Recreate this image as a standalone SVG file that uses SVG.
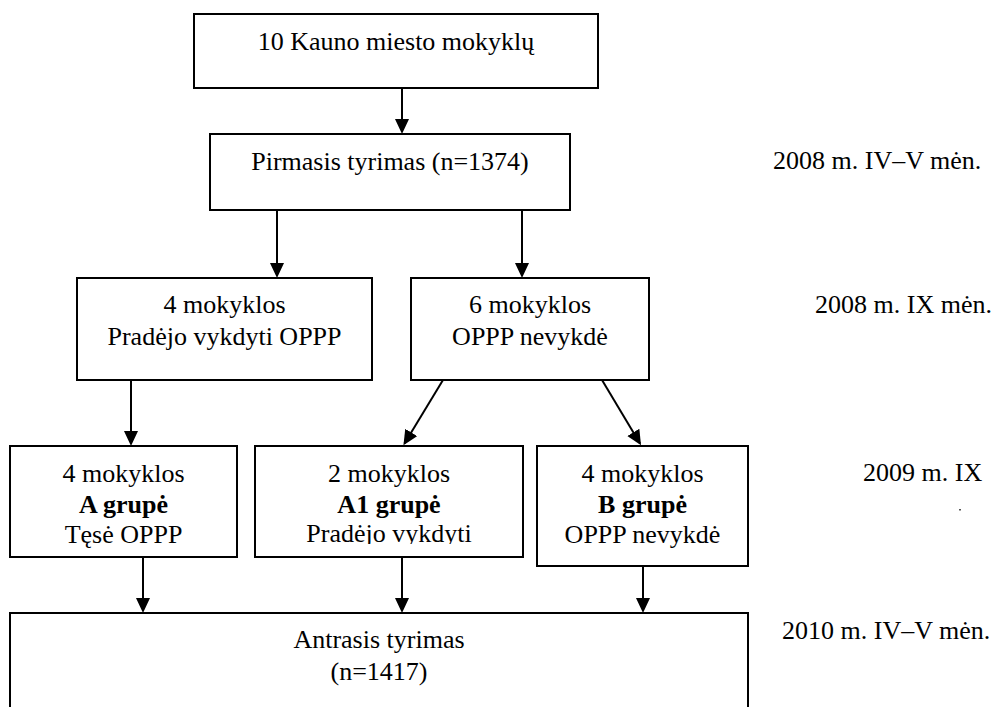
<svg xmlns="http://www.w3.org/2000/svg" width="998" height="707" viewBox="0 0 998 707" font-family="'Liberation Serif', 'Times New Roman', serif">
<style>
  .box { fill: #ffffff; stroke: #000000; stroke-width: 2; }
  text { font-family: "Liberation Serif", "Times New Roman", serif; font-size: 26px; fill: #000000; }
  .c { text-anchor: middle; }
  .b { font-weight: bold; }
  .edge { stroke: #000000; stroke-width: 2; fill: none; marker-end: url(#arrow); }
</style>
<defs>
  <marker id="arrow" markerUnits="userSpaceOnUse" markerWidth="16" markerHeight="16" refX="13" refY="7" orient="auto">
    <path d="M0,0 L15,7 L0,14 z" fill="#000000"/>
  </marker>
  <clipPath id="clipA1">
    <rect x="250" y="440" width="280" height="104"/>
  </clipPath>
</defs>
<rect width="998" height="707" fill="#ffffff"/>

<g id="connectors">
  <line class="edge" x1="402" y1="88" x2="402" y2="132"/>
  <line class="edge" x1="277" y1="210" x2="277" y2="276"/>
  <line class="edge" x1="522" y1="210" x2="522" y2="276"/>
  <line class="edge" x1="131" y1="380" x2="131" y2="444"/>
  <line class="edge" x1="443" y1="380" x2="404.5" y2="443.5"/>
  <line class="edge" x1="602" y1="380" x2="640" y2="443.5"/>
  <line class="edge" x1="143" y1="557" x2="143" y2="611"/>
  <line class="edge" x1="402" y1="557" x2="402" y2="611"/>
  <line class="edge" x1="643" y1="566" x2="643" y2="611"/>
</g>

<g id="n_schools">
  <rect class="box" x="194" y="14" width="404" height="74"/>
  <text class="c" x="396" y="50">10 Kauno miesto mokyklų</text>
</g>

<g id="n_first">
  <rect class="box" x="210" y="134" width="360" height="76"/>
  <text class="c" x="390" y="170">Pirmasis tyrimas (n=1374)</text>
</g>

<g id="n_four">
  <rect class="box" x="77" y="278" width="295" height="102"/>
  <text class="c" x="224.5" y="313">4 mokyklos</text>
  <text class="c" x="224.5" y="345">Pradėjo vykdyti OPPP</text>
</g>

<g id="n_six">
  <rect class="box" x="411" y="278" width="238" height="102"/>
  <text class="c" x="530" y="313">6 mokyklos</text>
  <text class="c" x="530" y="345">OPPP nevykdė</text>
</g>

<g id="n_groupA">
  <rect class="box" x="10" y="446" width="227" height="111"/>
  <text class="c" x="123.5" y="482">4 mokyklos</text>
  <text class="c b" x="123.5" y="513">A grupė</text>
  <text class="c" x="123.5" y="543">Tęsė OPPP</text>
</g>

<g id="n_groupA1">
  <rect class="box" x="255" y="446" width="268" height="111"/>
  <text class="c" x="389" y="482">2 mokyklos</text>
  <text class="c b" x="389" y="513">A1 grupė</text>
  <text class="c" x="389" y="542" clip-path="url(#clipA1)">Pradėjo vykdyti</text>
</g>

<g id="n_groupB">
  <rect class="box" x="537" y="446" width="211" height="120"/>
  <text class="c" x="642.5" y="482">4 mokyklos</text>
  <text class="c b" x="642.5" y="513">B grupė</text>
  <text class="c" x="642.5" y="543">OPPP nevykdė</text>
</g>

<g id="n_second">
  <rect class="box" x="10" y="613" width="738" height="120"/>
  <text class="c" x="379" y="648">Antrasis tyrimas</text>
  <text class="c" x="379" y="680">(n=1417)</text>
</g>

<g id="timeline">
  <text x="773" y="169">2008 m. IV–V mėn.</text>
  <text x="815" y="313">2008 m. IX mėn.</text>
  <text x="863" y="481">2009 m. IX</text>
  <rect x="959" y="509" width="2" height="1.5" fill="#555555"/>
  <text x="782" y="639">2010 m. IV–V mėn.</text>
</g>
</svg>
